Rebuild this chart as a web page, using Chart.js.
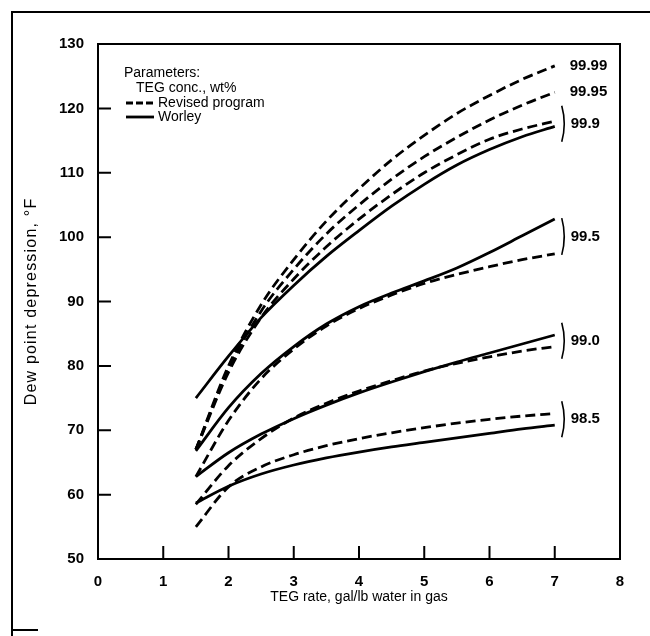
<!DOCTYPE html>
<html>
<head>
<meta charset="utf-8">
<script src="https://cdn.jsdelivr.net/npm/chart.js@4.4.1/dist/chart.umd.min.js"></script>
<style>
  html, body { margin: 0; padding: 0; background: #fff; }
  #wrap { width: 650px; height: 636px; position: relative; }
</style>
</head>
<body>
<div id="wrap"><canvas id="dew"></canvas></div>
<script>
// TEG rate, gal/lb water in gas
const rates = [1.5, 2, 2.5, 3, 3.5, 4, 4.5, 5, 5.5, 6, 6.5, 7];

// dew point depression, F
const revised9999 = [67, 80, 89.5, 96.5, 102.5, 107.5, 112, 115.8, 119.2, 122, 124.5, 126.6];
const revised9995 = [67, 79.5, 88.5, 95, 100.5, 105, 109, 112.5, 115.5, 118.2, 120.5, 122.5];
const revised999 = [67, 79, 87.5, 93.5, 98.5, 102.8, 106.6, 110, 112.8, 115.2, 116.8, 118];
const worley999 = [75, 81.5, 87.5, 92.5, 97, 101, 104.8, 108.2, 111.2, 113.6, 115.6, 117.2];
const revised995 = [62.8, 71.5, 78, 82.6, 86.2, 88.9, 91, 92.8, 94.2, 95.4, 96.5, 97.4];
const worley995 = [66.8, 73.5, 78.8, 83, 86.5, 89.2, 91.3, 93.2, 95.2, 97.6, 100.2, 102.8];
const revised990 = [58.5, 64.5, 68.7, 71.9, 74.2, 76.1, 77.7, 79.2, 80.4, 81.4, 82.3, 83];
const worley990 = [62.8, 66.5, 69.4, 71.8, 73.9, 75.8, 77.5, 79.1, 80.6, 82, 83.4, 84.8];
const revised985 = [55, 61.2, 64.3, 66.2, 67.6, 68.7, 69.6, 70.4, 71.1, 71.7, 72.2, 72.6];
const worley985 = [58.7, 61.3, 63.2, 64.6, 65.7, 66.6, 67.4, 68.1, 68.8, 69.5, 70.2, 70.8];

const concLabels = ['99.99', '99.95', '99.9', '99.5', '99.0', '98.5'];
const concGroups = [[revised9999], [revised9995], [revised999, worley999], [worley995, revised995], [worley990, revised990], [revised985, worley985]];

const xTickValues = [1, 2, 3, 4, 5, 6, 7];
const yTickValues = [60, 70, 80, 90, 100, 110, 120];

const FONT = "'Liberation Sans', Arial, sans-serif";

const toPoints = arr => arr.map((v, i) => ({ x: rates[i], y: v }));

const makeSet = (label, arr, dashed) => ({
  label: label,
  data: toPoints(arr),
  borderColor: '#000',
  borderWidth: 2.8,
  borderDash: dashed ? [10, 5] : [],
  pointRadius: 0,
  fill: false,
  cubicInterpolationMode: 'monotone'
});

const datasets = [
  makeSet('Revised 99.99', revised9999, true),
  makeSet('Revised 99.95', revised9995, true),
  makeSet('Revised 99.9', revised999, true),
  makeSet('Worley 99.9', worley999, false),
  makeSet('Revised 99.5', revised995, true),
  makeSet('Worley 99.5', worley995, false),
  makeSet('Revised 99.0', revised990, true),
  makeSet('Worley 99.0', worley990, false),
  makeSet('Revised 98.5', revised985, true),
  makeSet('Worley 98.5', worley985, false)
];

// frame, inner ticks, y title, legend text and curve labels
const decorPlugin = {
  id: 'decor',
  beforeDraw(chart) {
    const ctx = chart.ctx;
    ctx.save();
    ctx.strokeStyle = '#000';
    ctx.lineWidth = 2;
    ctx.beginPath();
    ctx.moveTo(650, 12);
    ctx.lineTo(12, 12);
    ctx.lineTo(12, 636);
    ctx.moveTo(12, 630);
    ctx.lineTo(38, 630);
    ctx.stroke();
    ctx.restore();
  },
  afterDraw(chart) {
    const ctx = chart.ctx;
    const area = chart.chartArea;
    const xs = chart.scales.x;
    const ys = chart.scales.y;
    ctx.save();
    ctx.strokeStyle = '#000';
    ctx.lineWidth = 2;
    ctx.beginPath();
    ctx.moveTo(area.left, area.top);
    ctx.lineTo(area.right, area.top);
    ctx.lineTo(area.right, area.bottom);
    ctx.stroke();

    ctx.beginPath();
    xTickValues.forEach(v => {
      const px = xs.getPixelForValue(v);
      ctx.moveTo(px, area.bottom);
      ctx.lineTo(px, area.bottom - 13);
    });
    yTickValues.forEach(v => {
      const py = ys.getPixelForValue(v);
      ctx.moveTo(area.left, py);
      ctx.lineTo(area.left + 13, py);
    });
    ctx.stroke();

    ctx.fillStyle = '#000';

    // y axis title, a bit spaced out like the original
    ctx.save();
    ctx.translate(32, (area.top + area.bottom) / 2);
    ctx.rotate(-Math.PI / 2);
    ctx.font = '16px ' + FONT;
    ctx.letterSpacing = '1.2px';
    ctx.textAlign = 'center';
    ctx.textBaseline = 'middle';
    ctx.fillText('Dew point depression, °F', 0, 0);
    ctx.restore();

    // legend
    ctx.textBaseline = 'middle';
    ctx.textAlign = 'left';
    ctx.font = '14px ' + FONT;
    ctx.fillText('Parameters:', 124, 73);
    ctx.fillText('TEG conc., wt%', 136, 88);
    ctx.fillText('Revised program', 158, 103);
    ctx.fillText('Worley', 158, 117);
    ctx.lineWidth = 2.8;
    ctx.beginPath();
    ctx.setLineDash([7, 3]);
    ctx.moveTo(126, 103);
    ctx.lineTo(154, 103);
    ctx.stroke();
    ctx.setLineDash([]);
    ctx.beginPath();
    ctx.moveTo(126, 117);
    ctx.lineTo(154, 117);
    ctx.stroke();

    // concentration labels at the curve ends
    const xEnd = xs.getPixelForValue(rates[rates.length - 1]);
    ctx.font = 'bold 15px ' + FONT;
    ctx.lineWidth = 1.6;
    concGroups.forEach((sets, i) => {
      const ends = sets.map(s => ys.getPixelForValue(s[s.length - 1]));
      const top = Math.min(...ends);
      const bot = Math.max(...ends);
      const mid = (top + bot) / 2;
      if (sets.length > 1) {
        const half = Math.max(18, (bot - top) / 2 + 1);
        const bx = xEnd + 7;
        ctx.beginPath();
        ctx.moveTo(bx, mid - half);
        ctx.quadraticCurveTo(bx + 5, mid, bx, mid + half);
        ctx.stroke();
        ctx.fillText(concLabels[i], xEnd + 16, mid);
      } else {
        ctx.fillText(concLabels[i], xEnd + 15, mid);
      }
    });
    ctx.restore();
  }
};

new Chart(document.getElementById('dew'), {
  type: 'line',
  data: { datasets: datasets },
  options: {
    responsive: true,
    maintainAspectRatio: false,
    animation: false,
    layout: { padding: { left: 0, right: 30, top: 44, bottom: 0 } },
    plugins: {
      legend: { display: false },
      tooltip: { enabled: false }
    },
    scales: {
      x: {
        type: 'linear',
        min: 0,
        max: 8,
        grid: { display: false },
        border: { display: true, color: '#000', width: 2 },
        ticks: {
          stepSize: 1,
          color: '#000',
          padding: 6,
          font: { family: FONT, size: 15, weight: 'bold' }
        },
        title: {
          display: true,
          text: 'TEG rate, gal/lb water in gas',
          color: '#000',
          padding: { top: 0, bottom: 30 },
          font: { family: FONT, size: 14 }
        },
        afterFit(scale) { scale.height = 77; }
      },
      y: {
        min: 50,
        max: 130,
        grid: { display: false },
        border: { display: true, color: '#000', width: 2 },
        ticks: {
          stepSize: 10,
          color: '#000',
          padding: 6,
          font: { family: FONT, size: 15, weight: 'bold' }
        },
        title: { display: false },
        afterFit(scale) { scale.width = 98; }
      }
    }
  },
  plugins: [decorPlugin]
});
</script>
</body>
</html>
